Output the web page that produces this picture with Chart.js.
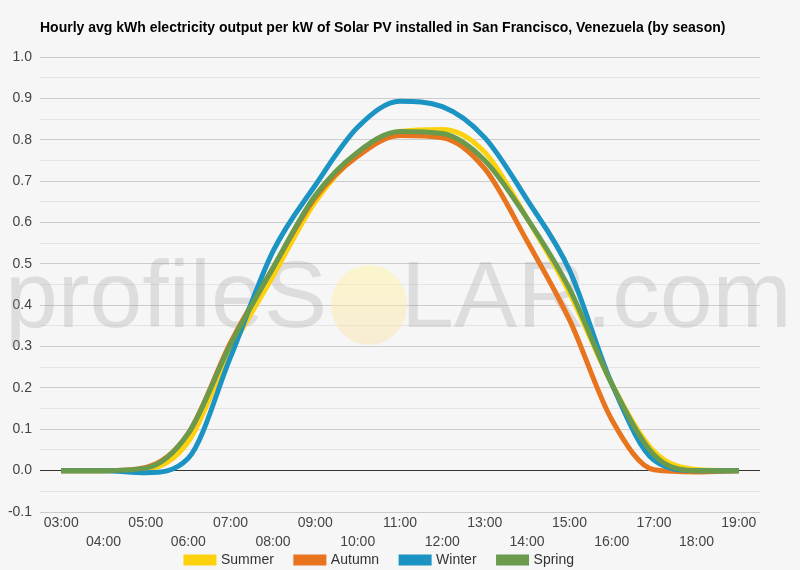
<!DOCTYPE html>
<html>
<head>
<meta charset="utf-8">
<script src="https://cdn.jsdelivr.net/npm/chart.js@4"></script>
<style>
  html, body { margin: 0; padding: 0; background: #f6f6f6; }
  #wrap { width: 800px; height: 570px; position: relative; }
</style>
</head>
<body>
<div id="wrap"><canvas id="chart" width="800" height="570"></canvas></div>
<script>
// ── Data ──────────────────────────────────────────────────────────────────────
const HOURS = ['03:00', '04:00', '05:00', '06:00', '07:00', '08:00', '09:00', '10:00', '11:00',
               '12:00', '13:00', '14:00', '15:00', '16:00', '17:00', '18:00', '19:00']

const SUMMER = [0, 0, 0.003, 0.07, 0.29, 0.47, 0.65, 0.765, 0.82, 0.825, 0.77, 0.61, 0.43, 0.21, 0.046, 0.003, 0]
const AUTUMN = [0, 0, 0.008, 0.09, 0.31, 0.49, 0.66, 0.76, 0.81, 0.805, 0.73, 0.555, 0.365, 0.123, 0.002, -0.003, 0]
const WINTER = [0, 0, -0.005, 0.03, 0.275, 0.53, 0.69, 0.83, 0.893, 0.88, 0.805, 0.655, 0.485, 0.21, 0.025, 0.0, 0]
const SPRING = [0, 0, 0.006, 0.09, 0.305, 0.49, 0.665, 0.77, 0.82, 0.815, 0.75, 0.61, 0.44, 0.21, 0.038, 0.0, 0]

const TITLE = 'Hourly avg kWh electricity output per kW of Solar PV installed in San Francisco, Venezuela (by season)'
const FONT  = 'Arial, "Liberation Sans", sans-serif'

// ── Watermark + title plugin ──────────────────────────────────────────────────
const decor = {
  id: 'decor',
  beforeDatasetsDraw(chart) {
    const ctx = chart.ctx
    ctx.save()
    ctx.font = `95px ${FONT}`
    ctx.textBaseline = 'alphabetic'
    ctx.fillStyle = 'rgba(150,150,150,0.26)'
    const base = 327
    let x = 5
    ctx.fillText('profileS', x, base)
    x += ctx.measureText('profileS').width
    const ow = ctx.measureText('O').width
    const g = ctx.createLinearGradient(0, base - 62, 0, base + 18)
    g.addColorStop(0, 'rgba(255,245,170,0.55)')
    g.addColorStop(1, 'rgba(250,225,170,0.45)')
    ctx.fillStyle = g
    ctx.beginPath()
    ctx.ellipse(x + ow / 2 + 5, base - 22, 38, 40, 0, 0, Math.PI * 2)
    ctx.fill()
    ctx.fillStyle = 'rgba(150,150,150,0.26)'
    ctx.fillText('LAR.com', x + ow, base)
    ctx.restore()
  },
  afterDraw(chart) {
    const ctx = chart.ctx
    ctx.save()
    ctx.font = `bold 14px ${FONT}`
    ctx.fillStyle = '#000'
    ctx.textBaseline = 'middle'
    ctx.fillText(TITLE, 40, 28)
    ctx.restore()
  },
}

// ── Chart ─────────────────────────────────────────────────────────────────────
function series(label, data, color, order) {
  return {
    label, data, order,
    borderColor: color, backgroundColor: color,
    borderWidth: 5, pointRadius: 0, cubicInterpolationMode: 'monotone', fill: false,
  }
}

new Chart(document.getElementById('chart'), {
  type: 'line',
  data: {
    labels: HOURS,
    datasets: [
      series('Summer', SUMMER, '#fcd20f', 4),
      series('Autumn', AUTUMN, '#e8741e', 3),
      series('Winter', WINTER, '#1b93c3', 2),
      series('Spring', SPRING, '#6a9a4c', 1),
    ],
  },
  options: {
    responsive: false,
    animation: false,
    layout: { padding: { top: 57, right: 40, left: 0, bottom: -7 } },
    plugins: {
      tooltip: { enabled: false },
      legend: {
        position: 'bottom',
        labels: {
          boxWidth: 28, boxHeight: 6, padding: 22,
          font: { size: 14, family: FONT }, color: '#333',
          sort: (a, b) => a.datasetIndex - b.datasetIndex,
        },
      },
    },
    scales: {
      x: {
        offset: true,
        // the two label rows overlap the legend box, so keep the box short and unclipped
        afterFit(scale) {
          scale.height = 19
          scale._computeLabelArea = () => undefined
        },
        grid: { display: false },
        border: { display: false },
        ticks: {
          autoSkip: false, maxRotation: 0, padding: -6,
          color: '#444', font: { size: 14, family: FONT, lineHeight: 1.35 },
          callback: (v, i) => i % 2 === 0 ? [HOURS[i], ''] : ['', HOURS[i]],
        },
      },
      y: {
        min: -0.1, max: 1.0,
        afterFit(scale) { scale.width = 40 },
        border: { display: false },
        grid: {
          drawTicks: false,
          color: ctx => {
            const k = Math.round(ctx.tick.value * 100)
            if (k === 0) return '#333'
            return k % 10 === 0 ? '#cccccc' : '#e4e4e4'
          },
        },
        ticks: {
          stepSize: 0.05, padding: 8,
          color: '#444', font: { size: 14, family: FONT },
          callback: v => Math.round(v * 100) % 10 === 0 ? v.toFixed(1) : '',
        },
      },
    },
  },
  plugins: [decor],
})
</script>
</body>
</html>
